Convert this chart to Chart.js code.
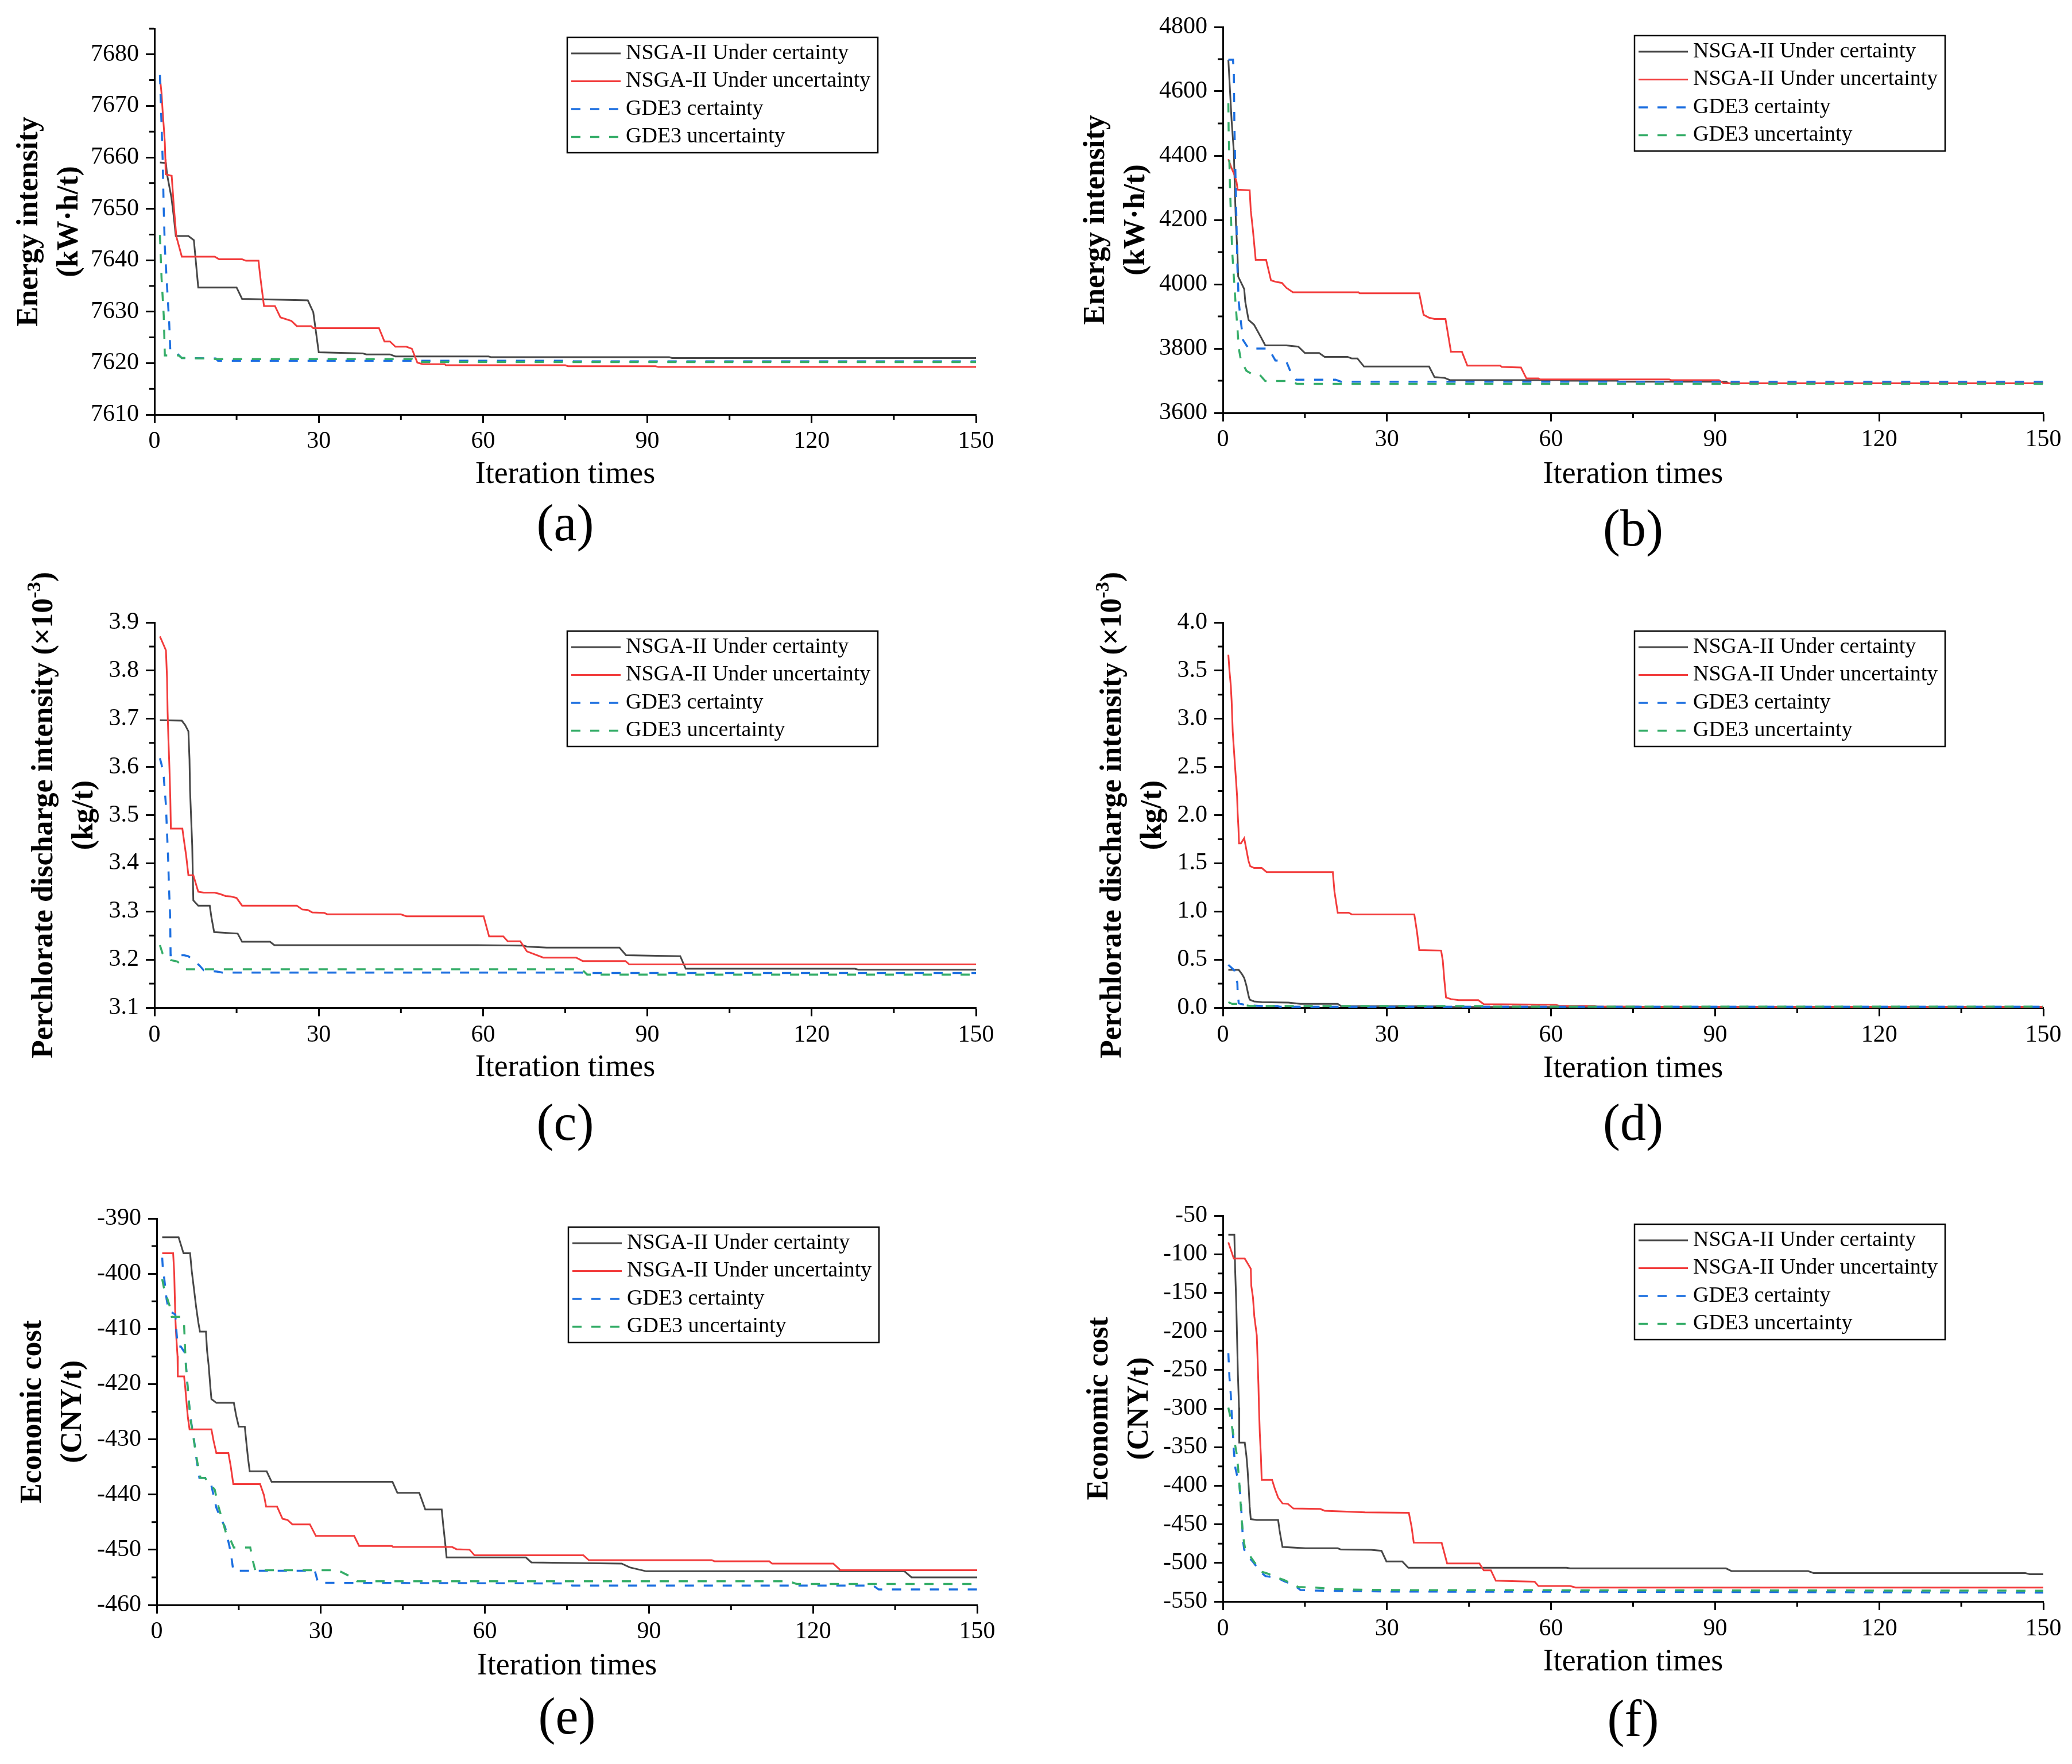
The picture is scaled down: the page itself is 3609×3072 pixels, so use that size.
<!DOCTYPE html>
<html>
<head>
<meta charset="utf-8">
<script src="https://cdn.jsdelivr.net/npm/chart.js@4.4.1/dist/chart.umd.min.js"></script>
<style>
  html, body { margin: 0; padding: 0; background: #fff; }
  body { width: 3609px; height: 3072px; position: relative; overflow: hidden; }
  canvas { position: absolute; }
</style>
</head>
<body>
<canvas id="pa"></canvas>
<canvas id="pb"></canvas>
<canvas id="pc"></canvas>
<canvas id="pd"></canvas>
<canvas id="pe"></canvas>
<canvas id="pf"></canvas>
<script>
// ---- data: [iteration, value] ----
// (a) energy intensity, first case
const aNsgaCert = [[1,7659],[2.1,7658.9],[2.3,7656.7],[3.1,7652.2],[3.55,7648.3],[3.9,7644.7],[6.2,7644.7],[7.2,7643.9],[8,7634.7],[15,7634.7],[16,7632.5],[28,7632.2],[29,7629.9],[30,7622.1],[38,7621.9],[38.7,7621.7],[43,7621.7],[44,7621.3],[61,7621.3],[61.5,7621.15],[94,7621.15],[94.5,7621.0],[150,7621.0]];
const aNsgaUnc = [[1,7675.6],[1.3,7672.4],[1.5,7668.9],[1.7,7666],[1.9,7662.8],[2,7659.6],[2.05,7656.7],[3.15,7656.4],[3.55,7650.3],[4,7644.6],[5,7640.7],[11,7640.7],[11.8,7640.2],[16,7640.2],[16.7,7639.9],[19,7639.9],[19.3,7637],[20,7631.1],[22,7631.1],[23,7628.9],[25,7628.2],[26,7627.2],[28.6,7627.2],[29,7626.8],[41,7626.8],[42,7624.2],[43,7624.2],[44,7623.2],[46,7623.2],[47,7622.8],[48,7620.1],[49,7619.8],[53,7619.8],[53.2,7619.6],[75,7619.6],[75.5,7619.4],[91.5,7619.4],[92,7619.25],[150,7619.25]];
const aGdeCert = [[1,7676],[1.5,7659.6],[1.7,7649.8],[1.9,7642.4],[2.3,7635],[2.7,7627.7],[2.9,7622.3],[4.2,7621.8],[5,7621],[11.2,7620.9],[11.6,7620.45],[76,7620.45],[76.5,7620.35],[150,7620.35]];
const aGdeUnc = [[1,7644.9],[1.3,7636.5],[1.7,7629.2],[1.9,7621.5],[4.4,7621.5],[5,7621],[9.4,7620.9],[11.2,7620.8],[47,7620.8],[47.5,7620.2],[150,7620.2]];

// (b) energy intensity, second case
const bNsgaCert = [[1,4698],[1.3,4603],[1.6,4508],[2,4413],[2.25,4262],[2.4,4183],[2.65,4104],[2.8,4024],[3.9,3985],[4.1,3945],[4.7,3889],[5.7,3874],[7,3834],[7.75,3810],[11.6,3810],[13.8,3806],[15,3786],[17.6,3786],[18.6,3774],[22.8,3774],[23.6,3769],[24.6,3769],[25.8,3744],[37.7,3744],[38.7,3711],[40.5,3709],[41.5,3702],[62,3702],[62.5,3700],[72,3700],[72.5,3697],[92,3697],[92.5,3692],[150,3692]];
const bNsgaUnc = [[1,4389],[1.5,4365],[2.1,4341],[2.5,4318],[2.7,4294],[4.9,4292],[5.1,4230],[5.5,4167],[6,4076],[7.9,4076],[8.8,4012],[9.8,4007],[10.8,4004],[11.6,3989],[12.8,3975],[24.8,3975],[25,3972],[35.9,3972],[36.7,3905],[37.7,3896],[38.7,3892],[40.7,3892],[41.7,3790],[43.7,3790],[44.7,3747],[50.7,3747],[51,3743],[54.5,3741],[55.5,3707],[57.7,3707],[58,3704],[81.6,3704],[82,3702],[90.7,3702],[91.5,3692],[150,3692]];
const bGdeCert = [[1,4698],[1.85,4698],[2,4659],[2.1,4500],[2.3,4341],[2.5,4183],[2.65,4056],[2.9,3945],[3.3,3882],[3.7,3826],[4.7,3800],[8.35,3800],[9.6,3763],[11.6,3760],[12.4,3727],[13.4,3703],[20.6,3703],[21.6,3697],[150,3697]];
const bGdeUnc = [[1,4563],[1.05,4484],[1.1,4445],[1.3,4302],[1.5,4199],[1.7,4104],[2,4024],[2.3,3945],[2.65,3866],[2.9,3802],[3.3,3763],[4.3,3731],[5.5,3719],[6.7,3719],[7.75,3699],[12,3699],[13.6,3690],[150,3690]];

// (c) perchlorate discharge intensity, first case
const cNsgaCert = [[1,3.697],[5,3.696],[5.6,3.687],[6.2,3.674],[6.4,3.616],[6.5,3.552],[6.7,3.494],[6.9,3.436],[7,3.378],[7.1,3.323],[8,3.312],[10.1,3.312],[10.4,3.288],[10.9,3.257],[15.2,3.254],[16,3.237],[21.1,3.237],[21.9,3.230],[59,3.230],[67.4,3.229],[68,3.227],[71.6,3.225],[84.9,3.225],[86.1,3.209],[96,3.207],[97,3.181],[127.9,3.181],[128.5,3.179],[150,3.179]];
const cNsgaUnc = [[1,3.871],[1.5,3.858],[2.1,3.842],[2.3,3.784],[2.4,3.716],[2.55,3.658],[2.75,3.594],[2.9,3.534],[3,3.472],[5.1,3.472],[5.4,3.447],[5.8,3.415],[6.2,3.375],[7.1,3.375],[8,3.341],[9,3.339],[11,3.339],[12,3.336],[13,3.332],[14,3.331],[15,3.328],[16,3.312],[26,3.312],[27,3.304],[28,3.303],[28.8,3.298],[31,3.297],[31.6,3.294],[45,3.294],[46,3.290],[60.1,3.290],[61.1,3.248],[63.7,3.248],[64.5,3.238],[66.8,3.238],[68,3.217],[71,3.204],[77,3.204],[78.2,3.197],[86,3.197],[86.7,3.190],[150,3.190]];
const cGdeCert = [[1,3.618],[1.3,3.605],[1.7,3.579],[2.1,3.52],[2.3,3.463],[2.5,3.41],[2.65,3.352],[2.85,3.294],[2.9,3.257],[2.95,3.209],[5.4,3.209],[6.2,3.207],[6.4,3.205],[8.2,3.188],[9,3.178],[11.4,3.175],[12.4,3.173],[78,3.173],[79,3.172],[150,3.172]];
const cGdeUnc = [[1,3.230],[1.5,3.212],[2.95,3.199],[4.2,3.196],[5.6,3.180],[78,3.180],[79,3.169],[150,3.169]];

// (d) perchlorate discharge intensity, second case
const dNsgaCert = [[1,0.393],[2.9,0.393],[3.5,0.348],[3.9,0.309],[4.3,0.230],[4.7,0.124],[4.9,0.084],[5.7,0.066],[7.1,0.058],[12,0.053],[14.2,0.040],[21,0.040],[21.6,0.018],[40,0.015],[41,0.008],[150,0.008]];
const dNsgaUnc = [[1,3.665],[1.2,3.501],[1.45,3.343],[1.6,3.185],[1.8,2.868],[2,2.697],[2.2,2.525],[2.4,2.367],[2.6,2.195],[2.7,2.024],[2.85,1.865],[2.95,1.707],[3.3,1.707],[3.9,1.760],[4.3,1.641],[4.7,1.522],[5,1.470],[5.7,1.451],[7.1,1.451],[8,1.409],[20.1,1.409],[20.4,1.206],[21,0.987],[23,0.987],[23.6,0.968],[35,0.968],[35.5,0.784],[35.9,0.599],[39.9,0.594],[40.2,0.493],[40.5,0.282],[40.8,0.106],[41.7,0.090],[43.1,0.079],[46.7,0.079],[47.7,0.037],[60.8,0.032],[61.5,0.020],[68,0.020],[68.5,0.012],[76,0.012],[76.5,0.008],[150,0.008]];
const dGdeCert = [[1,0.446],[2.1,0.388],[2.65,0.256],[2.7,0.164],[2.9,0.045],[4.3,0.026],[7.1,0.018],[10,0.018],[10.5,0.010],[150,0.010]];
const dGdeUnc = [[1,0.058],[1.7,0.040],[2.9,0.040],[4.3,0.024],[5,0.018],[48,0.018],[48.5,0.012],[150,0.012]];

// (e) economic cost, first case
const eNsgaCert = [[1,-393.4],[4,-393.4],[4.9,-396.3],[6.1,-396.3],[6.4,-399.5],[6.8,-402.7],[7.2,-406],[7.6,-408.8],[7.9,-410.5],[9,-410.5],[9.2,-413.9],[9.5,-416.7],[9.8,-420.5],[10,-422.7],[10.9,-423.4],[14.1,-423.4],[14.5,-425.6],[15,-427.7],[16.1,-427.7],[16.4,-430.7],[16.7,-433.5],[17,-435.8],[20.1,-435.8],[21,-437.7],[43.1,-437.7],[44,-439.7],[48,-439.7],[49.1,-442.7],[52.1,-442.7],[52.4,-445.7],[52.75,-448.9],[53,-451.4],[67.5,-451.4],[68.5,-452.3],[85,-452.5],[86.5,-453.2],[89.5,-453.9],[136.7,-453.9],[138,-455.0],[150,-455.0]];
const eNsgaUnc = [[1,-396.3],[3,-396.3],[3.2,-399.9],[3.3,-404.1],[3.4,-407.9],[3.55,-411.1],[3.8,-414.9],[3.85,-418.6],[5,-418.6],[5.2,-420.5],[5.4,-422.8],[5.7,-426.1],[6,-428.2],[10,-428.2],[10.4,-430.3],[10.9,-432.5],[13.1,-432.5],[13.5,-434.7],[14,-438.1],[18.9,-438.1],[19.6,-440.1],[20,-442.2],[22,-442.2],[23,-444.4],[23.9,-444.6],[24.8,-445.4],[28,-445.4],[29.1,-447.5],[36.1,-447.5],[37,-449.3],[43,-449.3],[43.2,-449.5],[54,-449.5],[54.8,-449.9],[57.2,-450.0],[58.1,-451.0],[78,-451.0],[79,-451.9],[101.5,-451.9],[102,-452.1],[112,-452.1],[112.5,-452.5],[123.7,-452.5],[125,-453.7],[150,-453.7]];
const eGdeCert = [[1,-397.1],[1.1,-398.8],[1.4,-401.1],[1.8,-404.6],[2.2,-406.7],[3.4,-407.4],[3.6,-410.4],[3.85,-413.2],[4.4,-413.2],[5.2,-414.4],[5.5,-418.6],[5.7,-421.4],[5.9,-423.5],[6.2,-426.3],[6.8,-430],[7.3,-433.8],[7.8,-437],[9.2,-437],[10,-438.4],[10.9,-442.4],[11.7,-444.3],[12.5,-445.9],[13.3,-449.4],[13.7,-451.7],[14,-453.8],[28.9,-453.8],[29.5,-456.0],[75,-456.1],[76,-456.5],[131,-456.5],[132,-457.2],[150,-457.2]];
const eGdeUnc = [[1,-401],[1.3,-402.5],[1.8,-404.1],[2.35,-405.8],[2.75,-407.8],[4.4,-407.8],[5,-409.3],[5.3,-416.3],[5.7,-420.9],[5.9,-423.3],[6.2,-426.5],[6.8,-430.3],[7.4,-434],[8,-437],[8.8,-437],[10,-438.4],[10.6,-439.1],[11.3,-442.2],[11.9,-444.3],[12.7,-447.1],[13.3,-447.8],[14.1,-449.6],[17.1,-449.6],[17.5,-451.7],[18,-453.7],[33.1,-453.7],[35.3,-454.8],[36.6,-455.7],[115.5,-455.7],[117,-456.2],[150,-456.2]];

// (f) economic cost, second case
const fNsgaCert = [[1,-74.8],[2.1,-74.8],[2.25,-121.4],[2.45,-164.1],[2.6,-210.1],[2.75,-256.1],[2.95,-298.8],[3,-344.1],[4,-344.1],[4.3,-361.2],[4.5,-377.6],[4.7,-400.6],[4.9,-426.8],[5.1,-443.3],[6.2,-444.3],[10.1,-444.3],[10.4,-459.7],[10.9,-479.4],[15.1,-481],[21,-481],[21.6,-482.7],[27.1,-483],[29,-484.3],[29.9,-498.1],[32.8,-498.1],[33.9,-506.3],[62.8,-506.3],[63.5,-507.1],[92,-507.1],[93,-510.6],[107,-510.6],[108,-513.1],[146.7,-513.1],[147.5,-514.6],[150,-514.6]];
const fNsgaUnc = [[1,-84.6],[2,-105.7],[4,-105.7],[4.5,-111.6],[5.1,-118.8],[5.2,-141.1],[5.5,-155.9],[5.75,-180.5],[6.2,-205.2],[6.35,-236.4],[6.5,-269.2],[6.6,-298.8],[6.75,-331.6],[6.95,-361.2],[7.1,-392.4],[9,-392.4],[9.5,-403.9],[10.1,-415.4],[10.9,-422.9],[11.9,-423.6],[12.9,-429.5],[17.8,-430.1],[18.6,-432.4],[22,-433.4],[26,-434.4],[34,-435],[34.5,-453.1],[34.9,-473.8],[40,-474],[41,-500.7],[46.9,-500.7],[47.7,-509.6],[49,-509.6],[49.9,-523.1],[53.8,-523.7],[57,-524.4],[57.7,-530],[63.5,-530],[64.5,-532],[150,-532]];
const fGdeCert = [[1,-228.2],[1.2,-259.4],[1.45,-282.4],[1.6,-305.3],[1.8,-328.3],[2,-354.6],[2.3,-377.6],[3.05,-400.6],[3.3,-423.6],[3.5,-446.6],[3.65,-469.5],[3.9,-482.7],[4.95,-494.2],[5.55,-499.1],[6.95,-512.2],[7.8,-517.2],[9.8,-518.8],[11.2,-523.7],[13,-528.7],[14.2,-535.2],[17.2,-535.9],[20.4,-536.2],[31.3,-537.2],[80,-537.5],[150,-538.5]];
const fGdeUnc = [[1,-298.8],[1.3,-308.6],[1.7,-325],[2.1,-341.5],[2.5,-357.9],[2.75,-374.3],[3.05,-400.6],[3.25,-423.6],[3.5,-449.8],[3.85,-472.8],[4.1,-482.7],[4.95,-490.9],[5.75,-499.1],[7.2,-511.6],[8.2,-513.9],[9.8,-518.8],[11.2,-522.1],[12.8,-528],[13.8,-531.3],[17,-532],[19.6,-533.6],[23.3,-534.6],[31.3,-535.2],[150,-536]];

const seriesNames = ["NSGA-II Under certainty", "NSGA-II Under uncertainty", "GDE3 certainty", "GDE3 uncertainty"];
const captions = ["(a)", "(b)", "(c)", "(d)", "(e)", "(f)"];
const xTitle = "Iteration times";

// ---- styles ----
const SERIF = "'Liberation Serif', 'Times New Roman', serif";
const seriesColors = ["#474747", "#f23c3c", "#1c6fe0", "#35ad68"];
const seriesDash = [[], [], [16, 17], [16, 17]];
const seriesWidth = [3, 3, 3.5, 3.5];
const seriesOrder = [4, 3, 2, 1];

Chart.defaults.font.family = SERIF;
Chart.defaults.color = "#000";

const energyTitle = [[{ t: "Energy intensity" }], [{ t: "(kW\u00b7h/t)" }]];
const perchTitle = [[{ t: "Perchlorate discharge intensity (\u00d710" }, { t: "-3", sup: true }, { t: ")" }], [{ t: "(kg/t)" }]];
const costTitle = [[{ t: "Economic cost" }], [{ t: "(CNY/t)" }]];

// layout of each panel, in page pixels
const panels = [
  { id: "pa", series: [aNsgaCert, aNsgaUnc, aGdeCert, aGdeUnc], box: [0, 0, 1800, 990], plot: [269, 1700, 50, 722],
    capY: 917, xTitleY: 827, xTickY: 769, yTitleX: 52, yTitle: energyTitle, y: { min: 7610, max: 7685, major: 10, minor: 5, dec: 0 } },
  { id: "pb", series: [bNsgaCert, bNsgaUnc, bGdeCert, bGdeUnc], box: [1800, 0, 1809, 990], plot: [2130, 3559, 47, 719],
    capY: 926, xTitleY: 827, xTickY: 766, yTitleX: 1910, yTitle: energyTitle, y: { min: 3600, max: 4800, major: 200, minor: 100, dec: 0 } },
  { id: "pc", series: [cNsgaCert, cNsgaUnc, cGdeCert, cGdeUnc], box: [0, 975, 1800, 1045], plot: [269, 1700, 1084, 1755],
    capY: 1961, xTitleY: 1860, xTickY: 1803, yTitleX: 78, yTitle: perchTitle, y: { min: 3.1, max: 3.9, major: 0.1, minor: 0.05, dec: 1 } },
  { id: "pd", series: [dNsgaCert, dNsgaUnc, dGdeCert, dGdeUnc], box: [1800, 975, 1809, 1045], plot: [2130, 3559, 1084, 1755],
    capY: 1961, xTitleY: 1862, xTickY: 1803, yTitleX: 1939, yTitle: perchTitle, y: { min: 0, max: 4, major: 0.5, minor: 0.25, dec: 1 } },
  { id: "pe", series: [eNsgaCert, eNsgaUnc, eGdeCert, eGdeUnc], box: [0, 2020, 1800, 1052], plot: [273, 1702, 2122, 2795],
    capY: 2995, xTitleY: 2902, xTickY: 2842, yTitleX: 58, yTitle: costTitle, y: { min: -460, max: -390, major: 10, minor: 5, dec: 0 } },
  { id: "pf", series: [fNsgaCert, fNsgaUnc, fGdeCert, fGdeUnc], box: [1800, 2020, 1809, 1052], plot: [2130, 3559, 2117, 2789],
    capY: 2999, xTitleY: 2895, xTickY: 2837, yTitleX: 1916, yTitle: costTitle, y: { min: -550, max: -50, major: 50, minor: 25, dec: 0 } }
];

const TICK_FONT = 42, XTITLE_FONT = 54, CAP_FONT = 90, TICK_LEN = 15;

function isMajor(v, min, major) {
  const k = (v - min) / major;
  return Math.abs(k - Math.round(k)) < 1e-6;
}

// rotated two-line y-axis title, with superscript support
function makeYTitle(p) {
  return {
    id: "yTitle",
    afterDraw(chart) {
      const { ctx, chartArea } = chart;
      const cy = (chartArea.top + chartArea.bottom) / 2;
      ctx.save();
      ctx.fillStyle = "#000";
      ctx.textBaseline = "middle";
      ctx.textAlign = "left";
      p.yTitle.forEach((segs, i) => {
        ctx.save();
        ctx.translate(p.yTitleX - p.box[0] + i * 70, cy);
        ctx.rotate(-Math.PI / 2);
        const fonts = segs.map(s => s.sup ? `bold 34px ${SERIF}` : `bold 52px ${SERIF}`);
        const widths = segs.map((s, j) => { ctx.font = fonts[j]; return ctx.measureText(s.t).width; });
        let pos = -widths.reduce((a, b) => a + b, 0) / 2;
        segs.forEach((s, j) => {
          ctx.font = fonts[j];
          ctx.fillText(s.t, pos, s.sup ? -17 : 0);
          pos += widths[j];
        });
        ctx.restore();
      });
      ctx.restore();
    }
  };
}

// framed legend inside the plot area
const legendBox = {
  id: "legendBox",
  afterDatasetsDraw(chart) {
    const { ctx, chartArea } = chart;
    const w = 541, h = 201;
    const left = chartArea.right - 171 - w, top = chartArea.top + 15;
    ctx.save();
    ctx.fillStyle = "#fff";
    ctx.fillRect(left, top, w, h);
    ctx.lineWidth = 2.5;
    ctx.strokeStyle = "#000";
    ctx.strokeRect(left, top, w, h);
    ctx.font = `38px ${SERIF}`;
    ctx.textBaseline = "middle";
    chart.data.datasets.forEach((ds, i) => {
      const y = top + 28 + i * 48.5;
      ctx.beginPath();
      ctx.setLineDash(ds.borderDash);
      ctx.strokeStyle = ds.borderColor;
      ctx.lineWidth = ds.borderWidth;
      ctx.moveTo(left + 7, y);
      ctx.lineTo(left + 93, y);
      ctx.stroke();
      ctx.setLineDash([]);
      ctx.fillStyle = "#000";
      ctx.fillText(ds.label, left + 102, y);
    });
    ctx.restore();
  }
};

// short minor ticks (major ones are drawn by the scales)
const minorTicks = {
  id: "minorTicks",
  afterDraw(chart) {
    const { ctx, chartArea } = chart;
    const xs = chart.scales.x, ys = chart.scales.y;
    ctx.save();
    ctx.strokeStyle = "#000";
    ctx.lineWidth = 3;
    ctx.beginPath();
    xs.ticks.forEach(t => {
      if (t.label !== "") return;
      const px = xs.getPixelForValue(t.value);
      ctx.moveTo(px, chartArea.bottom + 1);
      ctx.lineTo(px, chartArea.bottom + 9);
    });
    ys.ticks.forEach(t => {
      if (t.label !== "") return;
      const py = ys.getPixelForValue(t.value);
      ctx.moveTo(chartArea.left - 1, py);
      ctx.lineTo(chartArea.left - 9, py);
    });
    ctx.stroke();
    ctx.restore();
  }
};

panels.forEach((p, idx) => {
  const [bx, by, bw, bh] = p.box;
  const [pl, pr, pt, pbm] = p.plot;
  const canvas = document.getElementById(p.id);
  canvas.width = bw;
  canvas.height = bh;
  canvas.style.left = bx + "px";
  canvas.style.top = by + "px";

  const capH = CAP_FONT * 1.2;
  const capTop = p.capY - capH / 2;
  const xH = capTop - pbm;
  const xTitlePad = capTop - p.xTitleY - XTITLE_FONT * 1.2 / 2;
  const xTickPad = p.xTickY - pbm - TICK_LEN - TICK_FONT * 1.2 / 2;
  const yW = pl - bx;

  const datasets = p.series.map((s, i) => ({
    label: seriesNames[i],
    data: s.map(([x, y]) => ({ x, y })),
    borderColor: seriesColors[i],
    borderWidth: seriesWidth[i],
    borderDash: seriesDash[i],
    pointRadius: 0,
    tension: 0,
    fill: false,
    order: seriesOrder[i]
  }));

  const yc = p.y;
  new Chart(canvas, {
    type: "line",
    data: { datasets },
    plugins: [makeYTitle(p), legendBox, minorTicks],
    options: {
      responsive: false,
      animation: false,
      devicePixelRatio: 1,
      events: [],
      layout: { padding: { left: 0, right: bx + bw - pr, top: pt - by, bottom: by + bh - (capTop + capH) } },
      plugins: {
        legend: { display: false },
        tooltip: { enabled: false },
        title: {
          display: true, position: "bottom", fullSize: false, text: captions[idx], color: "#000",
          font: { family: SERIF, size: CAP_FONT, weight: "normal", lineHeight: 1.2 }, padding: 0
        }
      },
      scales: {
        x: {
          type: "linear", min: 0, max: 150,
          border: { color: "#000", width: 3 },
          grid: { drawOnChartArea: false, tickLength: TICK_LEN, tickWidth: 3,
                  tickColor: c => isMajor(c.tick.value, 0, 30) ? "#000" : "rgba(0,0,0,0)" },
          ticks: { stepSize: 15, autoSkip: false, maxRotation: 0, padding: xTickPad, color: "#000",
                   font: { size: TICK_FONT },
                   callback: v => isMajor(v, 0, 30) ? String(Math.round(v)) : "" },
          title: { display: true, text: xTitle, color: "#000", font: { size: XTITLE_FONT, lineHeight: 1.2 },
                   padding: { top: 0, bottom: xTitlePad } },
          afterFit: s => { s.height = xH; }
        },
        y: {
          type: "linear", min: yc.min, max: yc.max,
          border: { color: "#000", width: 3 },
          grid: { drawOnChartArea: false, tickLength: TICK_LEN, tickWidth: 3,
                  tickColor: c => isMajor(c.tick.value, yc.min, yc.major) ? "#000" : "rgba(0,0,0,0)" },
          ticks: { stepSize: yc.minor, autoSkip: false, padding: 12, color: "#000",
                   font: { size: TICK_FONT },
                   callback: v => isMajor(v, yc.min, yc.major) ? Number(v).toFixed(yc.dec) : "" },
          title: { display: false },
          afterFit: s => { s.width = yW; }
        }
      }
    }
  });
});
</script>
</body>
</html>
